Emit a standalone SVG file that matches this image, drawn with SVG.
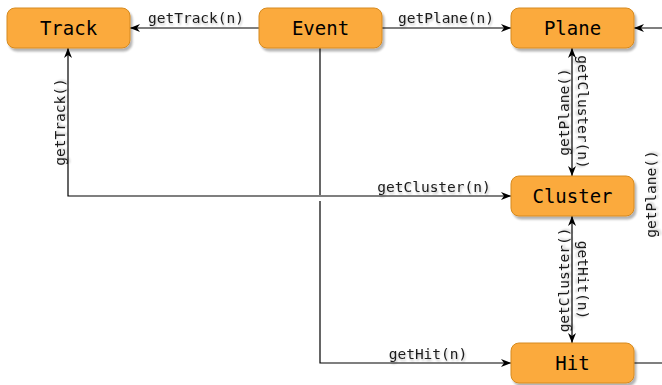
<svg xmlns="http://www.w3.org/2000/svg" width="662" height="385" viewBox="0 0 662 385">
<style>
.box{fill:#FBAA3D;stroke:#D68A1E;stroke-width:1;filter:url(#sh)}
.bt{font-family:"DejaVu Sans Mono","Liberation Mono",monospace;font-size:19px;fill:#000;text-anchor:middle;dominant-baseline:central}
.lbl{font-family:"DejaVu Sans Mono","Liberation Mono",monospace;font-size:14.5px;fill:#1a1a1a;text-anchor:middle;filter:url(#tsh)}
.rl{font-family:"DejaVu Sans Mono","Liberation Mono",monospace;font-size:14.5px;fill:#1a1a1a;text-anchor:middle;dominant-baseline:central;filter:url(#tsh)}
.ln{fill:none;stroke:#000;stroke-width:1.2}
</style>
<defs>
<filter id="sh" x="-10%" y="-20%" width="130%" height="160%">
<feGaussianBlur in="SourceAlpha" stdDeviation="1.2"/>
<feOffset dx="2" dy="3" result="b"/>
<feComponentTransfer><feFuncA type="linear" slope="0.3"/></feComponentTransfer>
<feMerge><feMergeNode/><feMergeNode in="SourceGraphic"/></feMerge>
</filter>
<filter id="tsh" x="-10%" y="-30%" width="130%" height="180%">
<feGaussianBlur in="SourceAlpha" stdDeviation="0.8"/>
<feOffset dx="1" dy="1.5" result="b"/>
<feComponentTransfer><feFuncA type="linear" slope="0.25"/></feComponentTransfer>
<feMerge><feMergeNode/><feMergeNode in="SourceGraphic"/></feMerge>
</filter>
<marker id="arr" viewBox="0 0 10 8" refX="10" refY="4" markerWidth="10" markerHeight="8" markerUnits="userSpaceOnUse" orient="auto-start-reverse">
<path d="M0,0 L10,4 L0,8 L3,4 Z" fill="#000"/>
</marker>
</defs>
<g id="connectors">
<path class="ln" d="M259,28 H130" marker-end="url(#arr)"/>
<path class="ln" d="M382,28 H511" marker-end="url(#arr)"/>
<path class="ln" d="M670,28 H634" marker-end="url(#arr)"/>
<path class="ln" d="M68,48 V196 H511" marker-start="url(#arr)" marker-end="url(#arr)"/>
<path class="ln" d="M320,48 V195"/>
<path class="ln" d="M320,201 V363 H511" marker-end="url(#arr)"/>
<path class="ln" d="M572,48 V176" marker-start="url(#arr)" marker-end="url(#arr)"/>
<path class="ln" d="M572,216 V343" marker-start="url(#arr)" marker-end="url(#arr)"/>
<path class="ln" d="M634,363 H670"/>
<text class="lbl" x="196" y="23">getTrack(n)</text>
<text class="lbl" x="446" y="23">getPlane(n)</text>
<text class="lbl" x="434" y="192">getCluster(n)</text>
<text class="lbl" x="428" y="359">getHit(n)</text>
<text class="rl" transform="translate(60,122) rotate(-90)">getTrack()</text>
<text class="rl" transform="translate(564,112) rotate(-90)">getPlane()</text>
<text class="rl" transform="translate(583,112) rotate(90)">getCluster(n)</text>
<text class="rl" transform="translate(564,280) rotate(-90)">getCluster()</text>
<text class="rl" transform="translate(583,280) rotate(90)">getHit(n)</text>
<text class="rl" transform="translate(651,194) rotate(-90)">getPlane()</text>
</g>
<g id="track"><rect class="box" x="7" y="8" width="123" height="40" rx="8"/><text class="bt" x="68.5" y="28">Track</text></g>
<g id="event"><rect class="box" x="259" y="8" width="123" height="40" rx="8"/><text class="bt" x="320.5" y="28">Event</text></g>
<g id="plane"><rect class="box" x="511" y="8" width="123" height="40" rx="8"/><text class="bt" x="572.5" y="28">Plane</text></g>
<g id="cluster"><rect class="box" x="511" y="176" width="123" height="40" rx="8"/><text class="bt" x="572.5" y="196">Cluster</text></g>
<g id="hit"><rect class="box" x="511" y="343" width="123" height="40" rx="8"/><text class="bt" x="572.5" y="363">Hit</text></g>
</svg>
